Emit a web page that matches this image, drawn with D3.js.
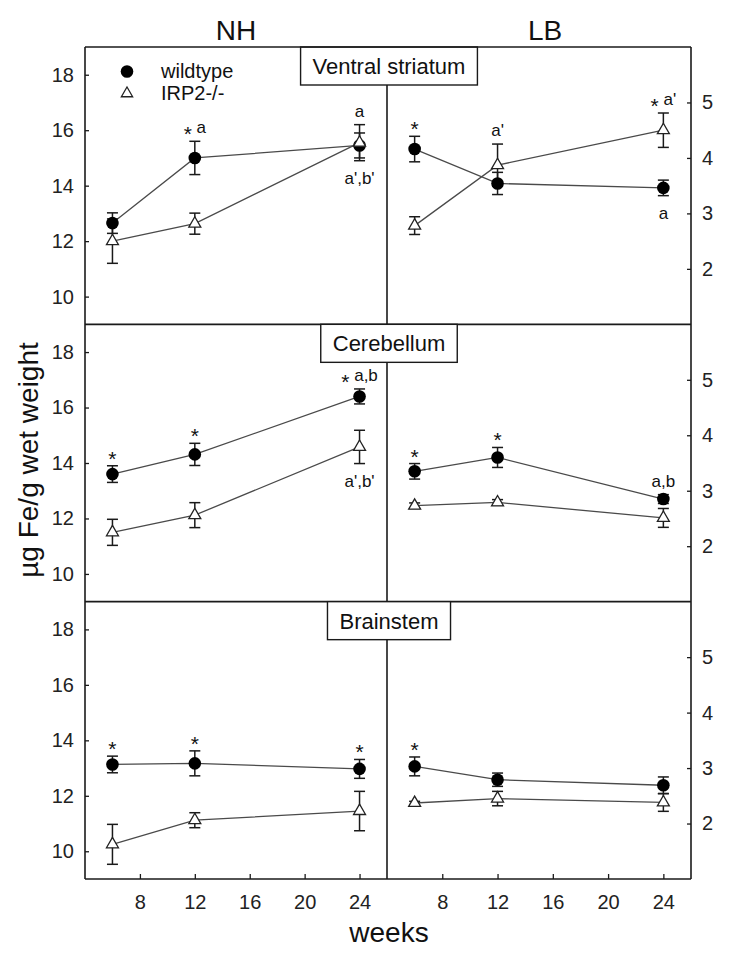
<!DOCTYPE html>
<html>
<head>
<meta charset="utf-8">
<script src="https://cdn.jsdelivr.net/npm/d3@7"></script>
<style>
  html, body { margin: 0; padding: 0; background: #fff; }
  svg { display: block; font-family: "Liberation Sans", Arial, sans-serif; }
</style>
</head>
<body>
<svg id="chart" width="750" height="970"></svg>
<script>
// ---------------- data ----------------
const weeks = [6, 12, 24];
const conditions = ["NH", "LB"];
const regions = ["Ventral striatum", "Cerebellum", "Brainstem"];
const seriesNames = ["wildtype", "IRP2-/-"];
const xTicks = [8, 12, 16, 20, 24];
const leftTicks = [10, 12, 14, 16, 18];
const rightTicks = [2, 3, 4, 5];

// Ventral striatum
const vsNH_wt = [12.65, 15.0, 15.45];   const vsNH_wtErr = [0.37, 0.6, 0.45];
const vsNH_ko = [12.0, 12.63, 15.55];   const vsNH_koErr = [0.8, 0.38, 0.65];
const vsLB_wt = [4.16, 3.54, 3.46];     const vsLB_wtErr = [0.23, 0.2, 0.14];
const vsLB_ko = [2.78, 3.87, 4.5];      const vsLB_koErr = [0.16, 0.38, 0.31];
// Cerebellum
const cbNH_wt = [13.6, 14.31, 16.4];    const cbNH_wtErr = [0.3, 0.4, 0.27];
const cbNH_ko = [11.5, 12.12, 14.58];   const cbNH_koErr = [0.47, 0.45, 0.6];
const cbLB_wt = [3.35, 3.6, 2.85];      const cbLB_wtErr = [0.14, 0.18, 0.08];
const cbLB_ko = [2.73, 2.79, 2.51];     const cbLB_koErr = [0.05, 0.05, 0.17];
// Brainstem
const bsNH_wt = [13.13, 13.17, 12.97];  const bsNH_wtErr = [0.3, 0.45, 0.34];
const bsNH_ko = [10.25, 11.12, 11.45];  const bsNH_koErr = [0.72, 0.27, 0.71];
const bsLB_wt = [3.03, 2.79, 2.69];     const bsLB_wtErr = [0.17, 0.12, 0.15];
const bsLB_ko = [2.37, 2.45, 2.38];     const bsLB_koErr = [0.03, 0.13, 0.16];

// significance labels
const annRegion = [0, 0, 0, 0, 0, 0, 0, 1, 1, 1, 1, 1, 1, 1, 2, 2, 2, 2];
const annCond   = ["NH","NH","NH","LB","LB","LB","LB","NH","NH","NH","NH","LB","LB","LB","NH","NH","NH","LB"];
const annWeek   = [12, 24, 24, 6, 12, 24, 24, 6, 12, 24, 24, 6, 12, 24, 6, 12, 24, 6];
const annSeries = [0, 1, 1, 0, 1, 1, 0, 0, 0, 0, 1, 0, 0, 0, 0, 0, 0, 0];
const annSide   = ["above","above","below","above","above","above","below","above","above","above","below","above","above","above","above","above","above","above"];
const annText   = ["* a","a","a',b'","*","a'","* a'","a","*","*","* a,b","a',b'","*","*","a,b","*","*","*","*"];

const panelData = {
  "0NH": [[vsNH_wt, vsNH_wtErr], [vsNH_ko, vsNH_koErr]],
  "0LB": [[vsLB_wt, vsLB_wtErr], [vsLB_ko, vsLB_koErr]],
  "1NH": [[cbNH_wt, cbNH_wtErr], [cbNH_ko, cbNH_koErr]],
  "1LB": [[cbLB_wt, cbLB_wtErr], [cbLB_ko, cbLB_koErr]],
  "2NH": [[bsNH_wt, bsNH_wtErr], [bsNH_ko, bsNH_koErr]],
  "2LB": [[bsLB_wt, bsLB_wtErr], [bsLB_ko, bsLB_koErr]]
};

// ---------------- layout ----------------
const svg = d3.select("#chart");
const X0 = 85, XM = 387, X1 = 691;
const Y0 = 47, Y1 = 879;
const rowH = (Y1 - Y0) / 3;
const ink = "#1a1a1a";
const lineCol = "#4a4a4a";
const FONT = "'Liberation Sans', Arial, sans-serif";

const xScales = {
  NH: d3.scaleLinear().domain([4, 26]).range([X0, XM]),
  LB: d3.scaleLinear().domain([4, 26]).range([XM, X1])
};
function yScale(row, cond) {
  const top = Y0 + row * rowH, bot = top + rowH;
  return cond === "NH"
    ? d3.scaleLinear().domain([9, 19]).range([bot, top])
    : d3.scaleLinear().domain([1, 6]).range([bot, top]);
}

const gPlot = svg.append("g");
const gFrame = svg.append("g");

regions.forEach((region, r) => {
  const top = Y0 + r * rowH, bot = top + rowH;

  // axes
  const yl = yScale(r, "NH"), yr = yScale(r, "LB");
  const axL = gFrame.append("g").attr("transform", `translate(${X0},0)`)
    .call(d3.axisLeft(yl).tickValues(leftTicks).tickFormat(d3.format("d"))
      .tickSizeInner(-4).tickSizeOuter(0).tickPadding(11));
  const axR = gFrame.append("g").attr("transform", `translate(${X1},0)`)
    .call(d3.axisRight(yr).tickValues(rightTicks).tickFormat(d3.format("d"))
      .tickSizeInner(-4).tickSizeOuter(0).tickPadding(11));
  [axL, axR].forEach(a => {
    a.select(".domain").remove();
    a.selectAll("line").attr("stroke", ink).attr("stroke-width", 1.3);
    a.selectAll("text").attr("font-size", 20).attr("fill", "#222").attr("font-family", FONT);
  });

  conditions.forEach(cond => {
    const x = xScales[cond], y = yScale(r, cond);
    const series = panelData[r + cond];

    // connecting lines
    series.forEach(([vals]) => {
      gPlot.append("path")
        .datum(vals.map((v, i) => [weeks[i], v]))
        .attr("fill", "none").attr("stroke", lineCol).attr("stroke-width", 1.3)
        .attr("d", d3.line().x(d => x(d[0])).y(d => y(d[1])));
    });
    // error bars
    series.forEach(([vals, errs]) => {
      vals.forEach((v, i) => {
        const cx = x(weeks[i]);
        const yt = y(v + errs[i]), yb = y(v - errs[i]);
        const g = gPlot.append("g").attr("stroke", ink).attr("stroke-width", 1.5);
        g.append("line").attr("x1", cx).attr("x2", cx).attr("y1", yt).attr("y2", yb);
        g.append("line").attr("x1", cx - 5.5).attr("x2", cx + 5.5).attr("y1", yt).attr("y2", yt);
        g.append("line").attr("x1", cx - 5.5).attr("x2", cx + 5.5).attr("y1", yb).attr("y2", yb);
      });
    });
    // markers: wildtype circles
    gPlot.append("g").selectAll("circle").data(series[0][0]).join("circle")
      .attr("cx", (d, i) => x(weeks[i])).attr("cy", d => y(d))
      .attr("r", 6.3).attr("fill", "#000");
    // markers: IRP2-/- triangles
    gPlot.append("g").selectAll("path").data(series[1][0]).join("path")
      .attr("transform", (d, i) => `translate(${x(weeks[i])},${y(d)})`)
      .attr("d", d3.symbol(d3.symbolTriangle, 62)())
      .attr("fill", "#fff").attr("stroke", "#222").attr("stroke-width", 1.3);
  });

  // row separator / bottom line
  gFrame.append("line").attr("x1", X0).attr("x2", X1).attr("y1", bot).attr("y2", bot)
    .attr("stroke", ink).attr("stroke-width", 1.6);

  // region title box
  const boxH = 38;
  const rect = gFrame.append("rect");
  const t = gFrame.append("text").attr("x", 389).attr("y", top + 27)
    .attr("text-anchor", "middle").attr("font-size", 22).attr("fill", "#111").text(region);
  const tw = t.node().getComputedTextLength();
  rect.attr("x", 389 - tw / 2 - 12).attr("y", top).attr("width", tw + 24).attr("height", boxH)
    .attr("fill", "#fff").attr("stroke", ink).attr("stroke-width", 1.4);
  // middle divider below the box
  gFrame.append("line").attr("x1", XM).attr("x2", XM).attr("y1", top + boxH).attr("y2", bot)
    .attr("stroke", ink).attr("stroke-width", 1.6);
});

// outer frame
gFrame.append("line").attr("x1", X0).attr("x2", X1).attr("y1", Y0).attr("y2", Y0).attr("stroke", ink).attr("stroke-width", 1.6);
gFrame.append("line").attr("x1", X0).attr("x2", X0).attr("y1", Y0).attr("y2", Y1).attr("stroke", ink).attr("stroke-width", 1.6);
gFrame.append("line").attr("x1", X1).attr("x2", X1).attr("y1", Y0).attr("y2", Y1).attr("stroke", ink).attr("stroke-width", 1.6);

// bottom x axes
conditions.forEach(cond => {
  const ax = gFrame.append("g").attr("transform", `translate(0,${Y1})`)
    .call(d3.axisBottom(xScales[cond]).tickValues(xTicks).tickSizeInner(-5).tickSizeOuter(0).tickPadding(16));
  ax.select(".domain").remove();
  ax.selectAll("line").attr("stroke", ink).attr("stroke-width", 1.3);
  ax.selectAll("text").attr("font-size", 20).attr("fill", "#222").attr("font-family", FONT);
});

// significance annotations
annText.forEach((txt, k) => {
  const r = annRegion[k], cond = annCond[k];
  const x = xScales[cond], y = yScale(r, cond);
  const [vals, errs] = panelData[r + cond][annSeries[k]];
  const i = weeks.indexOf(annWeek[k]);
  const yy = annSide[k] === "above" ? y(vals[i] + errs[i]) - 8 : y(vals[i] - errs[i]) + 23;
  const t = gFrame.append("text").attr("x", x(annWeek[k])).attr("y", yy)
    .attr("text-anchor", "middle").attr("font-size", 17).attr("fill", "#111");
  if (txt.startsWith("*")) {
    t.append("tspan").attr("font-size", 21).attr("dy", 8).text("*");
    const rest = txt.slice(1);
    if (rest.length) t.append("tspan").attr("dy", -8).text(rest);
  } else {
    t.text(txt);
  }
});

// legend
const lg = gFrame.append("g");
lg.append("circle").attr("cx", 127).attr("cy", 71.5).attr("r", 6.3).attr("fill", "#000");
lg.append("path").attr("transform", "translate(127,93.5)")
  .attr("d", d3.symbol(d3.symbolTriangle, 55)())
  .attr("fill", "#fff").attr("stroke", "#222").attr("stroke-width", 1.3);
lg.append("text").attr("x", 161).attr("y", 77.5).attr("font-size", 20).attr("fill", "#111").text(seriesNames[0]);
lg.append("text").attr("x", 161).attr("y", 99.5).attr("font-size", 20).attr("fill", "#111").text(seriesNames[1]);

// column headers
svg.append("text").attr("x", 236).attr("y", 40).attr("text-anchor", "middle")
  .attr("font-size", 28).attr("fill", "#111").text(conditions[0]);
svg.append("text").attr("x", 545).attr("y", 40).attr("text-anchor", "middle")
  .attr("font-size", 28).attr("fill", "#111").text(conditions[1]);

// axis titles
svg.append("text").attr("x", 389).attr("y", 942).attr("text-anchor", "middle")
  .attr("font-size", 28).attr("fill", "#111").text("weeks");
svg.append("text").attr("transform", "translate(38,460) rotate(-90)").attr("text-anchor", "middle")
  .attr("font-size", 28).attr("fill", "#111").text("µg Fe/g wet weight");
</script>
</body>
</html>
